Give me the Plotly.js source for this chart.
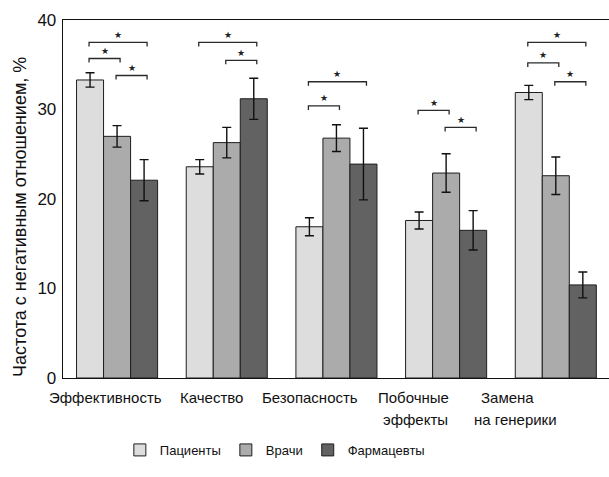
<!DOCTYPE html>
<html>
<head>
<meta charset="utf-8">
<script src="https://cdn.plot.ly/plotly-3.0.1.min.js"></script>
<style>html,body{margin:0;padding:0;background:#fff;}#chart{width:609px;height:477px;}</style>
</head>
<body>
<div id="chart"></div>
<script>
// ---- data ----
var categoryLines = [["Эффективность"], ["Качество"], ["Безопасность"], ["Побочные", "эффекты"], ["Замена", "на генерики"]];
var seriesNames = ["Пациенты", "Врачи", "Фармацевты"];
var patients = [33.3, 23.6, 16.9, 17.6, 31.9];
var patientsErr = [0.8, 0.8, 1.0, 0.95, 0.8];
var doctors = [27.0, 26.3, 26.8, 22.9, 22.6];
var doctorsErr = [1.2, 1.7, 1.5, 2.15, 2.1];
var pharmacists = [22.1, 31.2, 23.9, 16.5, 10.4];
var pharmacistsErr = [2.3, 2.3, 4.0, 2.2, 1.45];
var yTicks = [0, 10, 20, 30, 40];
var yTitle = "Частота с негативным отношением, %";
// significance comparisons: category, from series, to series, bracket level (%)
var sigCategory = [0, 0, 0, 1, 1, 2, 2, 3, 3, 4, 4, 4];
var sigFrom = [0, 0, 1, 0, 1, 0, 0, 0, 1, 0, 0, 1];
var sigTo = [2, 1, 2, 2, 2, 2, 1, 1, 2, 2, 1, 2];
var sigLevel = [37.5, 35.7, 33.8, 37.5, 35.5, 33.1, 30.4, 29.9, 28.0, 37.5, 35.2, 33.1];
var sigMark = "★";

// ---- style ----
var FONT = "Liberation Sans, Arial, Helvetica, sans-serif";
var colors = ["#dddddd", "#ababab", "#626262"];
var bargap = 0.261;
var pxPerCat = 109.6;           // horizontal pixels per category
var pxPerUnit = 8.95;           // vertical pixels per %
var labelShift = [[-11.5], [-15], [-26.7], [-33, -31], [-48, -40]];
var bracketPadL = -1, bracketPadR = 3, bracketTick = 4;

var xs = categoryLines.map(function (_, i) { return i; });
var vals = [patients, doctors, pharmacists];
var errs = [patientsErr, doctorsErr, pharmacistsErr];

var traces = seriesNames.map(function (name, s) {
  return {
    type: "bar", name: name, x: xs, y: vals[s],
    marker: { color: colors[s], line: { color: "#1e1e1e", width: 1 } },
    error_y: { type: "data", array: errs[s], visible: true, color: "#111", thickness: 1.4, width: 4.5 },
    hoverinfo: "skip"
  };
});

var barW = (1 - bargap) / 3;
function barCenter(cat, s) { return cat + (s - 1) * barW; }

var shapes = [];
var annotations = [];
for (var k = 0; k < sigCategory.length; k++) {
  var x0 = barCenter(sigCategory[k], sigFrom[k]) + bracketPadL / pxPerCat;
  var x1 = barCenter(sigCategory[k], sigTo[k]) + bracketPadR / pxPerCat;
  var y = sigLevel[k];
  var yt = y - bracketTick / pxPerUnit;
  shapes.push({
    type: "path", xref: "x", yref: "y",
    path: "M" + x0 + "," + yt + " L" + x0 + "," + y + " L" + x1 + "," + y + " L" + x1 + "," + yt,
    line: { color: "#2a2a2a", width: 1.3 }
  });
  annotations.push({
    xref: "x", yref: "y", x: (x0 + x1) / 2, y: y, text: sigMark, showarrow: false,
    yanchor: "middle", yshift: 7.5, font: { family: "DejaVu Sans, sans-serif", size: 9, color: "#222" }
  });
}

categoryLines.forEach(function (lines, i) {
  lines.forEach(function (t, j) {
    annotations.push({
      xref: "x", yref: "paper", x: i, y: 0, text: t, showarrow: false,
      xanchor: "center", yanchor: "middle", xshift: labelShift[i][j], yshift: -19 - 22 * j,
      font: { family: FONT, size: 15, color: "#111" }
    });
  });
});

annotations.push({
  xref: "paper", yref: "paper", x: 0, y: 0.45, xanchor: "center", yanchor: "middle",
  xshift: -43, text: yTitle, textangle: -90, showarrow: false,
  font: { family: FONT, size: 18, color: "#111" }
});

var layout = {
  width: 609, height: 477,
  margin: { l: 63, r: 0, t: 20, b: 99, pad: 0 },
  paper_bgcolor: "#fff", plot_bgcolor: "#fff",
  font: { family: FONT, color: "#111" },
  barmode: "group", bargap: bargap, bargroupgap: 0,
  xaxis: {
    range: [-0.493, 4.485], showticklabels: false, ticks: "", showgrid: false, zeroline: false,
    showline: true, mirror: true, linecolor: "#111", linewidth: 1.3, fixedrange: true
  },
  yaxis: {
    range: [0, 40], tickvals: yTicks, ticktext: yTicks.map(String), ticks: "", showgrid: false, zeroline: false,
    showline: true, linecolor: "#111", linewidth: 1.3, tickfont: { family: FONT, size: 17, color: "#111" },
    ticklabelstandoff: 2, fixedrange: true
  },
  legend: {
    orientation: "h", x: 0.388, xanchor: "center", y: -0.201, yanchor: "middle",
    font: { family: FONT, size: 13, color: "#111" }, itemwidth: 30, traceorder: "normal"
  },
  shapes: shapes,
  annotations: annotations,
  showlegend: true
};

Plotly.newPlot("chart", traces, layout, { staticPlot: true, displayModeBar: false });
</script>
</body>
</html>
